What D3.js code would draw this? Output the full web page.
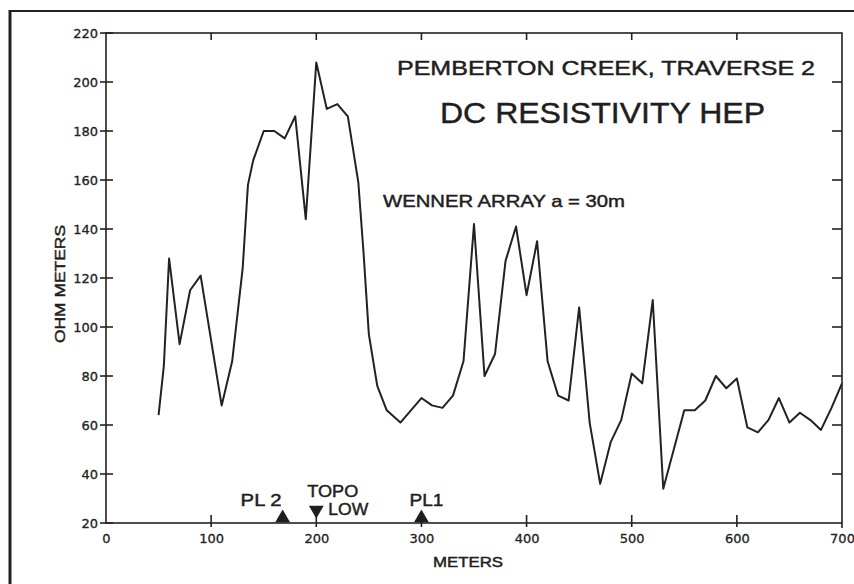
<!DOCTYPE html>
<html>
<head>
<meta charset="utf-8">
<script src="https://cdn.jsdelivr.net/npm/d3@7"></script>
<style>
	body { margin: 0; background: #fff; }
	svg { display: block; font-family: "Liberation Sans", "DejaVu Sans", sans-serif; }
	.tick-label { font-family: "DejaVu Sans", sans-serif; font-size: 13px; fill: #222; stroke: #222; stroke-width: 0.3; }
	.ink { stroke: #222; fill: none; }
	.lettering { fill: #1e1e1e; stroke: #1e1e1e; stroke-width: 0.45; }
</style>
</head>
<body>
<svg id="viz"></svg>
<script>
// Distance along the traverse (m) and apparent resistivity (ohm m)
const distance = [50, 55, 60, 70, 80, 90, 110, 120, 130, 135, 140, 150, 160, 170, 180, 190, 200, 210, 220, 230,
	240, 245, 250, 258, 267, 280, 300, 310, 320, 330, 340, 350, 360, 370, 380, 390, 400, 410, 420, 430,
	440, 450, 460, 470, 480, 490, 500, 510, 520, 530, 540, 550, 560, 570, 580, 590, 600, 610, 620, 630,
	640, 650, 660, 670, 680, 690, 700];
const resistivity = [64, 84, 128, 93, 115, 121, 68, 86, 124, 158, 168, 180, 180, 177, 186, 144, 208, 189, 191, 186,
	159, 130, 97, 76, 66, 61, 71, 68, 67, 72, 86, 142, 80, 89, 127, 141, 113, 135, 86, 72,
	70, 108, 61, 36, 53, 62, 81, 77, 111, 34, 50, 66, 66, 70, 80, 75, 79, 59, 57, 62,
	71, 61, 65, 62, 58, 67, 77];

const xTicks = [0, 100, 200, 300, 400, 500, 600, 700];
const yTicks = [20, 40, 60, 80, 100, 120, 140, 160, 180, 200, 220];

// Markers along the base line
const markerNames = ["PL 2", "TOPO LOW", "PL1"];
const markerPos = [168, 200, 300];
const markerDir = ["up", "down", "up"];

let translate = function(x, y) {
	return 'translate(' + x + ',' + y + ')';
}

let drawEverything = function() {
	const width = 854;
	const height = 584;

	const margin = {
		top: 33,
		right: 12,
		bottom: 61,
		left: 106
	};

	const plotWidth = width - margin.left - margin.right;
	const plotHeight = height - margin.top - margin.bottom;

	const svg = d3.select("svg#viz")
		.attr("width", width)
		.attr("height", height);

	// old drafting frame, only top and left edges survive in the scan
	svg.append("line").attr("class", "ink")
		.attr("x1", 10).attr("y1", 11).attr("x2", width).attr("y2", 11)
		.attr("stroke-width", 2.2);
	svg.append("line").attr("class", "ink")
		.attr("x1", 10).attr("y1", 10).attr("x2", 10).attr("y2", height)
		.attr("stroke-width", 3);

	const plot = svg.append("g").attr("id", "plot")
		.attr("transform", translate(margin.left, margin.top));

	const x = d3.scaleLinear()
		.domain([0, 700])
		.range([0, plotWidth]);

	const y = d3.scaleLinear()
		.domain([20, 220])
		.range([plotHeight, 0]);

	drawAxes();
	drawLine();
	drawMarkers();
	drawText();

	function drawAxes() {
		// box
		plot.append("rect").attr("class", "ink")
			.attr("width", plotWidth).attr("height", plotHeight)
			.attr("stroke-width", 1.6);

		// left axis: labels from d3, crossing ticks drawn by hand
		let yAxis = d3.axisLeft(y).tickValues(yTicks).tickSize(0).tickPadding(8);
		let ya = plot.append("g").attr("id", "y-axis").call(yAxis);
		ya.select(".domain").remove();
		ya.selectAll("text").attr("class", "tick-label");

		plot.append("g").selectAll("line").data(yTicks).join("line").attr("class", "ink")
			.attr("x1", -6).attr("x2", 7)
			.attr("y1", d => y(d)).attr("y2", d => y(d))
			.attr("stroke-width", 1.6);

		// right axis ticks point inward
		plot.append("g").selectAll("line").data(yTicks.slice(1, -1)).join("line").attr("class", "ink")
			.attr("x1", plotWidth - 10).attr("x2", plotWidth)
			.attr("y1", d => y(d)).attr("y2", d => y(d))
			.attr("stroke-width", 1.6);
		plot.append("line").attr("class", "ink")
			.attr("x1", plotWidth).attr("x2", plotWidth)
			.attr("y1", plotHeight).attr("y2", plotHeight + 5)
			.attr("stroke-width", 1.6);

		// bottom axis
		let xAxis = d3.axisBottom(x).tickValues(xTicks).tickSize(0).tickPadding(11);
		let xa = plot.append("g").attr("id", "x-axis")
			.attr("transform", translate(0, plotHeight))
			.call(xAxis);
		xa.select(".domain").remove();
		xa.selectAll("text").attr("class", "tick-label");

		plot.append("g").selectAll("line").data(xTicks.slice(1, -1)).join("line").attr("class", "ink")
			.attr("x1", d => x(d)).attr("x2", d => x(d))
			.attr("y1", plotHeight - 8).attr("y2", plotHeight + 4)
			.attr("stroke-width", 1.6);

		// top axis ticks point down
		plot.append("g").selectAll("line").data(xTicks.slice(1, -1)).join("line").attr("class", "ink")
			.attr("x1", d => x(d)).attr("x2", d => x(d))
			.attr("y1", 0).attr("y2", 7)
			.attr("stroke-width", 1.6);
	}

	function drawLine() {
		let line = d3.line()
			.x(d => x(d[0]))
			.y(d => y(d[1]));

		plot.append("path").attr("class", "ink")
			.datum(d3.zip(distance, resistivity))
			.attr("d", line)
			.attr("stroke-width", 2)
			.attr("stroke-linejoin", "round");
	}

	function drawMarkers() {
		let tri = d3.symbol().type(d3.symbolTriangle).size(95);

		markerPos.forEach(function(p, i) {
			let g = plot.append("g").attr("class", "marker");
			if (markerDir[i] == "up") {
				g.append("path").attr("fill", "#1e1e1e")
					.attr("d", tri())
					.attr("transform", translate(x(p), plotHeight - 5));
			} else {
				g.append("path").attr("fill", "#1e1e1e")
					.attr("d", tri())
					.attr("transform", translate(x(p), plotHeight - 13) + " rotate(180)");
			}
		});

		// labels
		let lab = plot.append("g").attr("font-size", 17).attr("class", "lettering");
		lab.append("text").attr("x", x(markerPos[0]) - 42).attr("y", plotHeight - 17)
			.attr("textLength", 41).attr("lengthAdjust", "spacingAndGlyphs").text(markerNames[0]);
		let words = markerNames[1].split(" ");
		lab.append("text").attr("x", x(markerPos[1]) - 9).attr("y", plotHeight - 26)
			.attr("textLength", 51).attr("lengthAdjust", "spacingAndGlyphs").text(words[0]);
		lab.append("text").attr("x", x(markerPos[1]) + 12).attr("y", plotHeight - 8)
			.attr("textLength", 40).attr("lengthAdjust", "spacingAndGlyphs").text(words[1]);
		lab.append("text").attr("x", x(markerPos[2]) - 12).attr("y", plotHeight - 17)
			.attr("textLength", 34).attr("lengthAdjust", "spacingAndGlyphs").text(markerNames[2]);
	}

	function drawText() {
		svg.append("text").attr("x", 397).attr("y", 75)
			.attr("font-size", 21).attr("class", "lettering")
			.attr("textLength", 418).attr("lengthAdjust", "spacingAndGlyphs")
			.text("PEMBERTON CREEK, TRAVERSE 2");

		svg.append("text").attr("x", 440).attr("y", 123)
			.attr("font-size", 30).attr("class", "lettering")
			.attr("stroke-width", 0.7)
			.attr("textLength", 325).attr("lengthAdjust", "spacingAndGlyphs")
			.text("DC RESISTIVITY HEP");

		svg.append("text").attr("x", 383).attr("y", 207)
			.attr("font-size", 17).attr("class", "lettering")
			.attr("textLength", 242).attr("lengthAdjust", "spacingAndGlyphs")
			.text("WENNER ARRAY a = 30m");

		// axis titles
		svg.append("text").attr("x", 468).attr("y", 567)
			.attr("text-anchor", "middle").attr("font-size", 14).attr("class", "lettering")
			.attr("textLength", 70).attr("lengthAdjust", "spacingAndGlyphs")
			.text("METERS");

		svg.append("text")
			.attr("transform", translate(65, 284) + " rotate(-90)")
			.attr("text-anchor", "middle").attr("font-size", 14).attr("class", "lettering")
			.attr("textLength", 118).attr("lengthAdjust", "spacingAndGlyphs")
			.text("OHM METERS");
	}
};

drawEverything();
</script>
</body>
</html>
